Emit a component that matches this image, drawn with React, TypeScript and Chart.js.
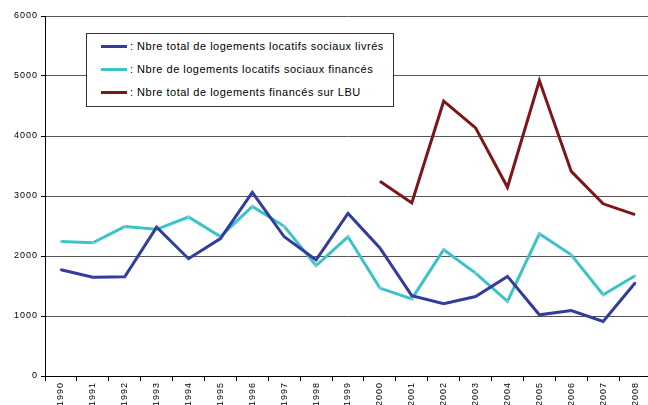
import React, { useEffect, useRef } from "react";
import { Chart, registerables } from "chart.js";

Chart.register(...registerables);

const years = [
  "1990", "1991", "1992", "1993", "1994", "1995", "1996", "1997", "1998", "1999",
  "2000", "2001", "2002", "2003", "2004", "2005", "2006", "2007", "2008",
];

const livres = [1770, 1645, 1655, 2480, 1955, 2290, 3060, 2320, 1935, 2710, 2135, 1340, 1205, 1325, 1660, 1020, 1090, 910, 1550];
const finances = [2240, 2220, 2490, 2445, 2650, 2325, 2825, 2495, 1840, 2320, 1465, 1285, 2105, 1715, 1245, 2370, 2020, 1355, 1670];
const lbu = [null, null, null, null, null, null, null, null, null, null, 3245, 2885, 4580, 4135, 3145, 4925, 3410, 2870, 2690];

const seriesLabels = [
  ": Nbre total de logements locatifs sociaux livrés",
  ": Nbre de logements locatifs sociaux financés",
  ": Nbre total de logements financés sur LBU",
];
const seriesColors = ["#323C9C", "#3CC3C8", "#7E1518"];
const markerColors = ["#3A4AA8", "#8CC8F0", "#7E1518"];

const yMin = 0;
const yMax = 6000;
const yStep = 1000;

export default function App() {
  const ref = useRef<HTMLCanvasElement | null>(null);

  useEffect(() => {
    if (!ref.current) return;
    const spacing = {
      id: "spacing",
      beforeDraw(chart: any) {
        chart.ctx.letterSpacing = "1px";
      },
    };
    const data = [livres, finances, lbu];
    const chart = new Chart(ref.current, {
      type: "line",
      data: {
        labels: years,
        datasets: data.map((d, i) => ({
          label: seriesLabels[i],
          data: d,
          borderColor: seriesColors[i],
          backgroundColor: markerColors[i],
          borderWidth: 3,
          pointRadius: i === 2 ? 0 : 1.5,
          pointStyle: "rect",
          pointBorderWidth: 0,
          tension: 0,
          spanGaps: false,
        })),
      },
      plugins: [spacing],
      options: {
        animation: false,
        responsive: false,
        maintainAspectRatio: false,
        devicePixelRatio: 1,
        layout: { padding: { top: 16, left: 0, right: 0, bottom: 0 } },
        plugins: {
          legend: { display: false },
          tooltip: { enabled: false },
        },
        scales: {
          x: {
            type: "category",
            offset: true,
            grid: {
              offset: true,
              drawOnChartArea: false,
              drawTicks: true,
              tickLength: 5,
              color: "#000",
            },
            border: { color: "#000", width: 1 },
            ticks: {
              minRotation: 90,
              maxRotation: 90,
              autoSkip: false,
              padding: 1,
              color: "#000",
              font: { size: 9, family: "Liberation Sans" },
            },
            afterFit(scale: any) {
              scale.height = 29;
            },
          },
          y: {
            min: yMin,
            max: yMax,
            ticks: {
              stepSize: yStep,
              padding: 3,
              color: "#000",
              font: { size: 9, family: "Liberation Sans" },
              callback: (v: any) => String(v),
            },
            grid: {
              color: "#555",
              lineWidth: 1,
              tickLength: 4,
              tickColor: "#000",
            },
            border: { color: "#000", width: 1 },
            afterFit(scale: any) {
              scale.width = 45;
            },
          },
        },
      },
    });
    return () => chart.destroy();
  }, []);

  const rowTops = [12, 35, 58];

  return (
    <div
      style={{
        position: "fixed",
        left: 0,
        top: 0,
        width: 648,
        height: 405,
        overflow: "hidden",
        background: "#fff",
      }}
    >
      <canvas ref={ref} width={655} height={405} style={{ display: "block" }} />
      <div
        style={{
          position: "absolute",
          left: 86,
          top: 33,
          width: 308,
          height: 74,
          boxSizing: "border-box",
          border: "1px solid #333",
          background: "#fff",
          fontFamily: "'Liberation Sans', Arial, sans-serif",
          fontSize: 11,
          letterSpacing: "0.5px",
          color: "#000",
        }}
      >
        {seriesLabels.map((lab, i) => (
          <div key={i} style={{ position: "absolute", left: 0, top: rowTops[i] - 7, height: 14, width: "100%" }}>
            <div
              style={{
                position: "absolute",
                left: 14,
                top: 6,
                width: 26,
                height: 3,
                background: seriesColors[i],
              }}
            />
            <div style={{ position: "absolute", left: 43, top: 0, lineHeight: "14px", whiteSpace: "nowrap" }}>{lab}</div>
          </div>
        ))}
      </div>
    </div>
  );
}
